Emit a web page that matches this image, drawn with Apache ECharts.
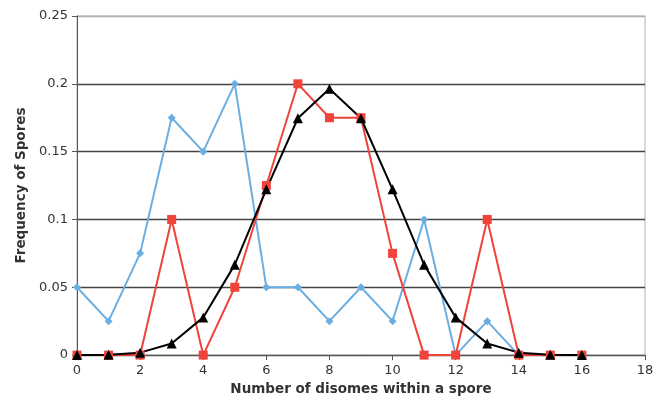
<!DOCTYPE html>
<html><head><meta charset="utf-8">
<script src="https://cdn.jsdelivr.net/npm/echarts@6/dist/echarts.min.js"></script>
<style>html,body{margin:0;padding:0;background:#fff}#c{width:670px;height:401px}</style>
</head><body><div id="c"></div>
<script>
const xBlue = [0,1,2,3,4,5,6,7,8,9,10,11,12,13,14];
const blueVals = [0.05,0.025,0.075,0.175,0.15,0.2,0.05,0.05,0.025,0.05,0.025,0.1,0,0.025,0];
const xRed = [0,1,2,3,4,5,6,7,8,9,10,11,12,13,14,15,16];
const redVals = [0,0,0,0.1,0,0.05,0.125,0.2,0.175,0.175,0.075,0,0,0.1,0,0,0];
const xBlack = [0,1,2,3,4,5,6,7,8,9,10,11,12,13,14,15,16];
const blackVals = [0.00002,0.0002,0.0018,0.0085,0.0278,0.0667,0.1222,0.1746,0.1964,0.1746,0.1222,0.0667,0.0278,0.0085,0.0018,0.0002,0.00002];
const xTitle = 'Number of disomes within a spore';
const yTitle = 'Frequency of Spores';

const pairs = (xs, ys) => xs.map((x, i) => [x, ys[i]]);
const font = 'DejaVu Sans, Verdana, sans-serif';
const chart = echarts.init(document.getElementById('c'));
chart.setOption({
  animation: false,
  grid: {left: 77, right: 25, top: 16, bottom: 43, show: true, borderColor: '#b0b0b0', borderWidth: 1},
  xAxis: {
    type: 'value', min: 0, max: 18, interval: 2,
    name: xTitle, nameLocation: 'middle', nameGap: 25,
    nameTextStyle: {fontFamily: font, fontSize: 13.5, fontWeight: 'bold', color: '#333'},
    axisLine: {show: true, lineStyle: {color: '#555', width: 1}},
    axisTick: {show: true, length: 5, lineStyle: {color: '#555'}},
    axisLabel: {fontFamily: font, fontSize: 13, color: '#333', margin: 9},
    splitLine: {show: false}
  },
  yAxis: {
    type: 'value', min: 0, max: 0.25, interval: 0.05,
    name: yTitle, nameLocation: 'middle', nameGap: 48,
    nameTextStyle: {fontFamily: font, fontSize: 13.5, fontWeight: 'bold', color: '#333'},
    axisLine: {show: true, lineStyle: {color: '#555', width: 1}},
    axisTick: {show: true, length: 5, lineStyle: {color: '#555'}},
    axisLabel: {fontFamily: font, fontSize: 13, color: '#333', margin: 9},
    splitLine: {show: true, lineStyle: {color: ['#444','#444','#444','#444','#444','#b0b0b0'], width: 1.4}}
  },
  series: [
    {type: 'line', data: pairs(xBlue, blueVals), symbol: 'diamond', symbolSize: 8,
     lineStyle: {color: '#6aaee2', width: 2}, itemStyle: {color: '#6aaee2'}},
    {type: 'line', data: pairs(xRed, redVals), symbol: 'rect', symbolSize: 9,
     lineStyle: {color: '#f0433a', width: 2}, itemStyle: {color: '#f0433a'}},
    {type: 'line', data: pairs(xBlack, blackVals), symbol: 'triangle', symbolSize: 10,
     lineStyle: {color: '#000', width: 2}, itemStyle: {color: '#000'}}
  ]
});
</script></body></html>
